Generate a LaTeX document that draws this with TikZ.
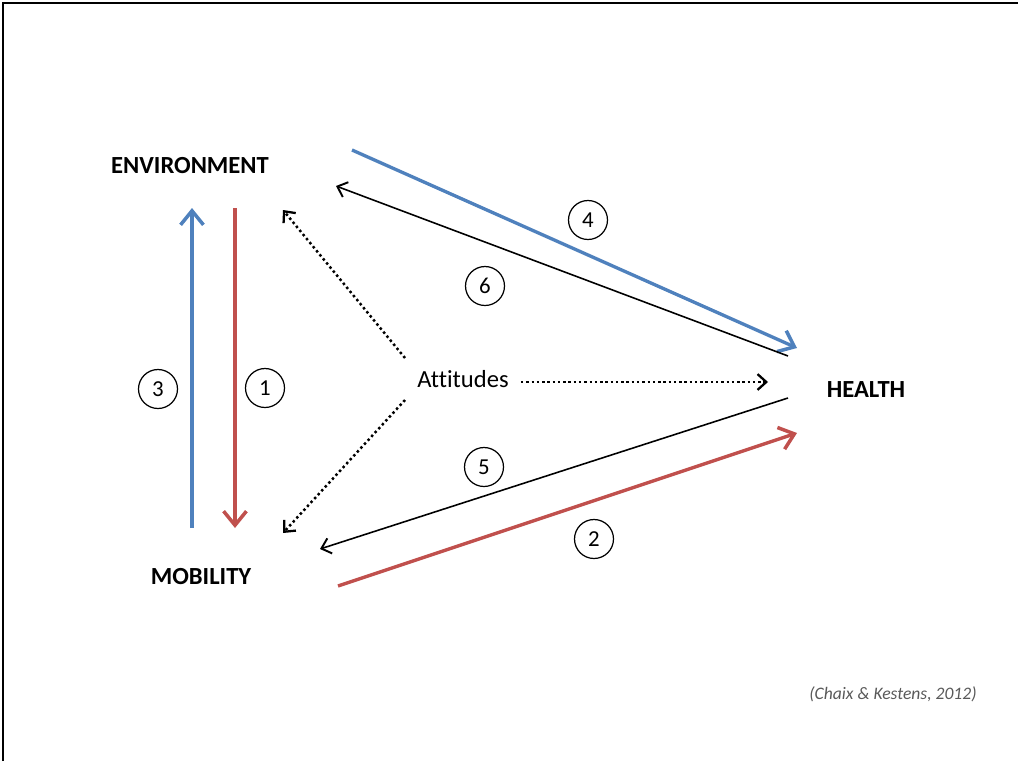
\documentclass[tikz,border=0pt]{standalone}
\usepackage{fontspec}
\setmainfont[Ligatures=NoCommon]{Carlito}
\usetikzlibrary{arrows.meta}
\definecolor{envblue}{RGB}{79,129,189}
\definecolor{mobred}{RGB}{192,80,77}
\begin{document}
\begin{tikzpicture}[x=0.02cm,y=-0.02cm,
	label/.style={font=\fontsize{14}{16}\selectfont\bfseries},
	numcircle/.style={draw,circle,line width=0.7pt,minimum size=0.78cm,inner sep=0pt,font=\fontsize{13}{15}\selectfont},
	bluearrow/.style={draw=envblue,line width=1.9pt,-{Straight Barb[length=8pt,width=13pt,line width=2pt]}},
	redarrow/.style={draw=mobred,line width=1.9pt,-{Straight Barb[length=8pt,width=13pt,line width=2pt]}},
	thinarrow/.style={draw,line width=0.9pt,-{Straight Barb[length=5pt,width=9pt,line width=1.1pt]}},
	dotarrow/.style={draw,line width=1.4pt,dash pattern=on 1.4pt off 1.6pt,-{Straight Barb[length=5pt,width=9pt,line width=1.3pt]}}]
	\useasboundingbox (0,0) rectangle (1018,761);
	\draw [line width=1pt] (3,761) -- (3,3) -- (1018,3);
	% main nodes
	\node [label] (env) at (190,166) {ENVIRONMENT};
	\node [label] (mob) at (201,577) {MOBILITY};
	\node [label] (health) at (866,390) {HEALTH};
	\node [font=\fontsize{14}{16}\selectfont] (att) at (463,379) {Attitudes};
	% end points of the connectors
	\coordinate (envA) at (192,208);
	\coordinate (envB) at (235,208);
	\coordinate (envC) at (283,210);
	\coordinate (envD) at (336,186);
	\coordinate (envE) at (352,150);
	\coordinate (mobA) at (192,528);
	\coordinate (mobB) at (235,528);
	\coordinate (mobC) at (283,533);
	\coordinate (mobD) at (320,549);
	\coordinate (mobE) at (338,586);
	\coordinate (healA) at (797,348);
	\coordinate (healB) at (788,356);
	\coordinate (healC) at (768,382);
	\coordinate (healD) at (788,398);
	\coordinate (healE) at (797,433);
	\coordinate (attA) at (405,358);
	\coordinate (attB) at (405,400);
	\coordinate (attC) at (521,382);
	% connectors
	\draw [bluearrow] (mobA) -- (envA);
	\draw [redarrow] (envB) -- (mobB);
	\draw [bluearrow] (envE) -- (healA);
	\draw [thinarrow] (healB) -- (envD);
	\draw [thinarrow] (healD) -- (mobD);
	\draw [redarrow] (mobE) -- (healE);
	\draw [dotarrow] (attA) -- (envC);
	\draw [dotarrow] (attB) -- (mobC);
	\draw [dotarrow] (attC) -- (healC);
	% numbers
	\node [numcircle] (n1) at (265,388) {1};
	\node [numcircle] (n2) at (594,539) {2};
	\node [numcircle] (n3) at (158,389) {3};
	\node [numcircle] (n4) at (588,220) {4};
	\node [numcircle] (n5) at (484,467) {5};
	\node [numcircle] (n6) at (485,286) {6};
	\node [font=\fontsize{10}{12}\selectfont\itshape,text=black!65] (src) at (893,694) {(Chaix \& Kestens, 2012)};
\end{tikzpicture}
\end{document}
